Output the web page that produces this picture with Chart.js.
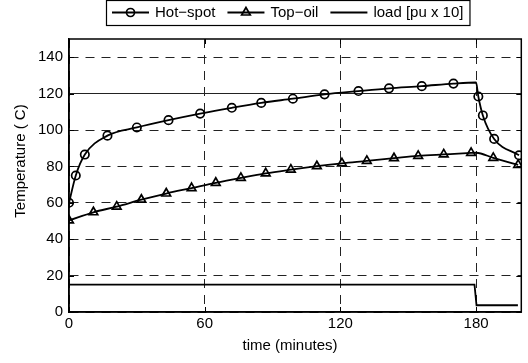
<!DOCTYPE html>
<html>
<head>
<meta charset="utf-8">
<script src="https://cdn.jsdelivr.net/npm/chart.js@4/dist/chart.umd.min.js"></script>
<style>
  html, body { margin: 0; padding: 0; background: #fff; }
  #wrap { width: 528px; height: 363px; }
</style>
</head>
<body>
<div id="wrap"><canvas id="chart" width="528" height="363"></canvas></div>
<script>
// data
const hotTime = [0, 3, 7, 17, 30, 44, 58, 72, 85, 99, 113, 128, 141.5, 156, 170, 180, 181, 183, 188, 199];
const hotTemp = [60, 75, 86.5, 96.9, 101.4, 105.4, 109, 112.2, 114.9, 117.2, 119.6, 121.4, 122.9, 124.1, 125.5, 126.1, 118.4, 108, 95.1, 86.1];
const hotMarked = [1, 1, 1, 1, 1, 1, 1, 1, 1, 1, 1, 1, 1, 1, 1, 0, 1, 1, 1, 1];

const topTime = [0, 10.8, 21.1, 32, 43, 54.2, 64.9, 76, 87, 98.1, 109.6, 120.7, 131.7, 143.7, 154.4, 165.7, 177.8, 180, 187.6, 198.6];
const topTemp = [50.3, 54.8, 57.9, 61.7, 65.1, 68.1, 71.0, 73.7, 76.2, 78.2, 80.1, 81.7, 83.0, 84.5, 85.8, 86.6, 87.4, 87.5, 84.7, 80.8];
const topMarked = [1, 1, 1, 1, 1, 1, 1, 1, 1, 1, 1, 1, 1, 1, 1, 1, 1, 0, 1, 1];

const loadTime = [0, 179.3, 180.2, 198.5];
const loadVal = [15, 15, 3.7, 3.7];

const xTicks = [0, 60, 120, 180];
const yTicks = [0, 20, 40, 60, 80, 100, 120, 140];

const legendLabels = ['Hot\u2212spot', 'Top\u2212oil', 'load [pu x 10]'];
const xTitle = 'time (minutes)';
const yTitle = 'Temperature ( C)';

const FONT = '15px "Liberation Sans", Arial, Helvetica, sans-serif';

function pts(xs, ys) {
  return xs.map((x, i) => ({ x: x, y: ys[i] }));
}

const extras = {
  id: 'extras',
  afterDatasetsDraw(chart) {
    const { ctx, chartArea: a, scales: { x, y } } = chart;
    ctx.save();
    // box around axes
    ctx.strokeStyle = '#000';
    ctx.lineWidth = 1.5;
    ctx.strokeRect(a.left, a.top, a.right - a.left, a.bottom - a.top);
    // inward tick marks
    ctx.lineWidth = 1;
    ctx.beginPath();
    xTicks.forEach(v => {
      const px = Math.round(x.getPixelForValue(v)) + 0.5;
      ctx.moveTo(px, a.bottom); ctx.lineTo(px, a.bottom - 5);
      ctx.moveTo(px, a.top); ctx.lineTo(px, a.top + 5);
    });
    yTicks.forEach(v => {
      const py = Math.round(y.getPixelForValue(v)) + 0.5;
      ctx.moveTo(a.left, py); ctx.lineTo(a.left + 5, py);
      ctx.moveTo(a.right, py); ctx.lineTo(a.right - 5, py);
    });
    ctx.stroke();

    // axis titles
    ctx.fillStyle = '#000';
    ctx.font = FONT;
    ctx.textAlign = 'center';
    ctx.textBaseline = 'middle';
    ctx.fillText(xTitle, 290, 346);
    ctx.translate(20.5, 161);
    ctx.rotate(-Math.PI / 2);
    ctx.fillText(yTitle, 0, 0);
    ctx.restore();

    // legend box
    ctx.save();
    ctx.font = FONT;
    ctx.textBaseline = 'middle';
    ctx.textAlign = 'left';
    const boxLeft = 106, boxTop = 0.5, boxH = 25, midY = 12.5;
    let cx = boxLeft + 6;
    const styles = ['circle', 'triangle', false];
    const radii = [4, 5, 0];
    legendLabels.forEach((label, i) => {
      ctx.strokeStyle = '#000';
      ctx.lineWidth = 1.8;
      ctx.beginPath();
      ctx.moveTo(cx, midY); ctx.lineTo(cx + 37, midY);
      ctx.stroke();
      if (styles[i]) {
        ctx.lineWidth = 1.7;
        ctx.fillStyle = 'rgba(0,0,0,0)';
        Chart.helpers.drawPoint(ctx, { pointStyle: styles[i], radius: radii[i], borderWidth: 1.7, rotation: 0 }, cx + 18.5, midY);
      }
      ctx.fillStyle = '#000';
      ctx.fillText(label, cx + 43, midY + 0.5);
      cx = cx + 43 + ctx.measureText(label).width + 12;
    });
    const boxRight = cx - 12 + 6;
    ctx.lineWidth = 1.2;
    ctx.strokeStyle = '#000';
    ctx.strokeRect(boxLeft + 0.5, boxTop, boxRight - boxLeft, boxH);
    ctx.restore();
  }
};

// only the horizontal line at 120 is solid in the reference
const yGridDash = ctx => (ctx.tick && ctx.tick.value === 120 ? [] : [9, 7]);

new Chart(document.getElementById('chart'), {
  type: 'line',
  data: {
    datasets: [
      {
        label: legendLabels[0],
        data: pts(hotTime, hotTemp),
        borderColor: '#000',
        borderWidth: 1.8,
        pointStyle: 'circle',
        pointRadius: ctx => (hotMarked[ctx.dataIndex] ? 4.2 : 0),
        pointBorderWidth: 1.7,
        pointBorderColor: '#000',
        pointBackgroundColor: 'rgba(0,0,0,0)',
        cubicInterpolationMode: 'monotone',
        fill: false
      },
      {
        label: legendLabels[1],
        data: pts(topTime, topTemp),
        borderColor: '#000',
        borderWidth: 1.8,
        pointStyle: 'triangle',
        pointRadius: ctx => (topMarked[ctx.dataIndex] ? 5 : 0),
        pointBorderWidth: 1.7,
        pointBorderColor: '#000',
        pointBackgroundColor: 'rgba(0,0,0,0)',
        cubicInterpolationMode: 'monotone',
        fill: false
      },
      {
        label: legendLabels[2],
        data: pts(loadTime, loadVal),
        borderColor: '#000',
        borderWidth: 1.8,
        pointRadius: 0,
        tension: 0,
        fill: false
      }
    ]
  },
  options: {
    responsive: false,
    animation: false,
    devicePixelRatio: 1,
    layout: { padding: { top: 39, right: 3, bottom: 0, left: 0 } },
    plugins: {
      legend: { display: false },
      tooltip: { enabled: false }
    },
    scales: {
      x: {
        type: 'linear',
        min: 0,
        max: 200,
        afterFit: s => { s.height = 51; },
        ticks: {
          stepSize: 60,
          includeBounds: false,
          color: '#000',
          padding: 3,
          maxRotation: 0,
          font: { family: '"Liberation Sans", Arial, sans-serif', size: 15 }
        },
        grid: { color: '#222', lineWidth: 1, drawTicks: false },
        border: { display: true, color: '#000', width: 1.5, dash: [9, 7] }
      },
      y: {
        min: 0,
        max: 150,
        afterFit: s => { s.width = 69; },
        ticks: {
          stepSize: 20,
          includeBounds: false,
          color: '#000',
          padding: 6,
          font: { family: '"Liberation Sans", Arial, sans-serif', size: 15 }
        },
        grid: { color: '#222', lineWidth: 1, drawTicks: false },
        border: { display: true, color: '#000', width: 1.5, dash: yGridDash }
      }
    }
  },
  plugins: [extras]
});
</script>
</body>
</html>
